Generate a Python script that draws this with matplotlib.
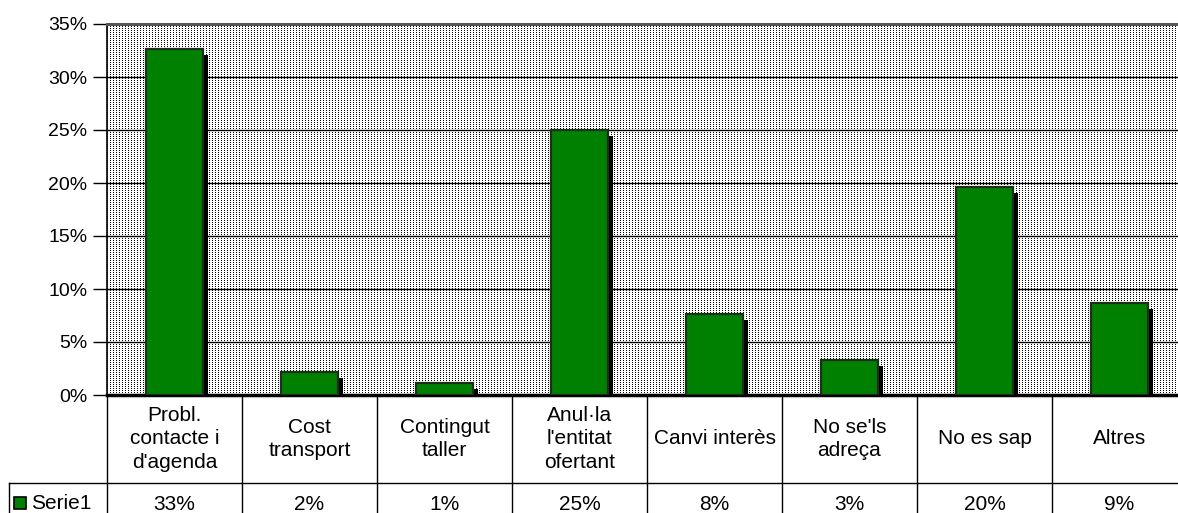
import numpy as np
import matplotlib
matplotlib.use("Agg")
import matplotlib.pyplot as plt
import matplotlib.patheffects as pe
from matplotlib.patches import Rectangle

plt.rcParams['font.family'] = ['Liberation Sans', 'DejaVu Sans']

categories = ["Probl.\ncontacte i\nd'agenda", "Cost\ntransport", "Contingut\ntaller",
              "Anul·la\nl'entitat\nofertant", "Canvi interès", "No se'ls\nadreça",
              "No es sap", "Altres"]
values = [32.6, 2.2, 1.1, 25.0, 7.6, 3.3, 19.6, 8.7]
series_name = "Serie1"
yticks = [0, 5, 10, 15, 20, 25, 30, 35]

W, H = 1178, 513
fig = plt.figure(figsize=(W / 100, H / 100), dpi=100)
left, right, top, bottom = 107, 1187, 24, 395
ax = fig.add_axes([left / W, 1 - bottom / H, (right - left) / W, (bottom - top) / H])

n = len(categories)
ax.set_xlim(-0.5, n - 0.5)
ax.set_ylim(0, 35)

# dotted background pattern (like Excel's fill)
pw, ph = right - left, bottom - top
pat = np.zeros((ph, pw))
pat[::2, ::3] = 1
ax.imshow(pat, extent=(-0.5, n - 0.5, 0, 35), aspect='auto', cmap='Greys',
          vmin=0, vmax=1, interpolation='nearest', zorder=0)

for yv in yticks[1:-1]:
    ax.axhline(yv, color='black', lw=1, zorder=1)

x = np.arange(n)
bars = ax.bar(x, values, width=0.42, color='#008000', edgecolor='#1c2e1c',
              linewidth=1.6, zorder=3)
for b in bars:
    b.set_path_effects([pe.SimplePatchShadow(offset=(3.8, -4.2), shadow_rgbFace='black', alpha=1.0),
                        pe.Normal()])

ax.set_yticks(yticks)
ax.set_yticklabels([f"{t}%" for t in yticks], fontsize=14)
ax.tick_params(axis='y', length=10, width=1, pad=4, color='black')
ax.set_xticks([])
ax.spines['right'].set_visible(False)
ax.spines['top'].set_color('#555555')
ax.spines['top'].set_linewidth(2.2)
ax.spines['left'].set_linewidth(1.2)
ax.spines['bottom'].set_linewidth(2.5)

# data table below the plot
axh = bottom - top
row1 = -(483 - bottom) / axh
row2 = -(H - bottom + 2) / axh
trans = ax.get_xaxis_transform()
for i in range(n + 1):
    ax.plot([i - 0.5, i - 0.5], [0, row2], color='black', lw=1, transform=trans, clip_on=False)
leg_left = (9 - left) / (right - left) * n - 0.5
ax.plot([leg_left, n - 0.5], [row1, row1], color='black', lw=1, transform=trans, clip_on=False)
ax.plot([leg_left, leg_left], [row1, row2], color='black', lw=1, transform=trans, clip_on=False)

val_y = -(510 - bottom) / axh
for i, (c, v) in enumerate(zip(categories, values)):
    ax.text(i, row1 / 2, c, ha='center', va='center', fontsize=15, linespacing=1.33,
            transform=trans, clip_on=False)
    ax.text(i, val_y, f"{v:.0f}%", ha='center', va='baseline', fontsize=15,
            transform=trans, clip_on=False)

fig.patches.append(Rectangle((14 / W, 1 - 509 / H), 12 / W, 12 / H, transform=fig.transFigure,
                             facecolor='#008000', edgecolor='black', lw=1.2))
fig.text(31 / W, 1 - 509 / H, series_name, ha='left', va='baseline', fontsize=15)

fig.savefig("out.png", dpi=100)
